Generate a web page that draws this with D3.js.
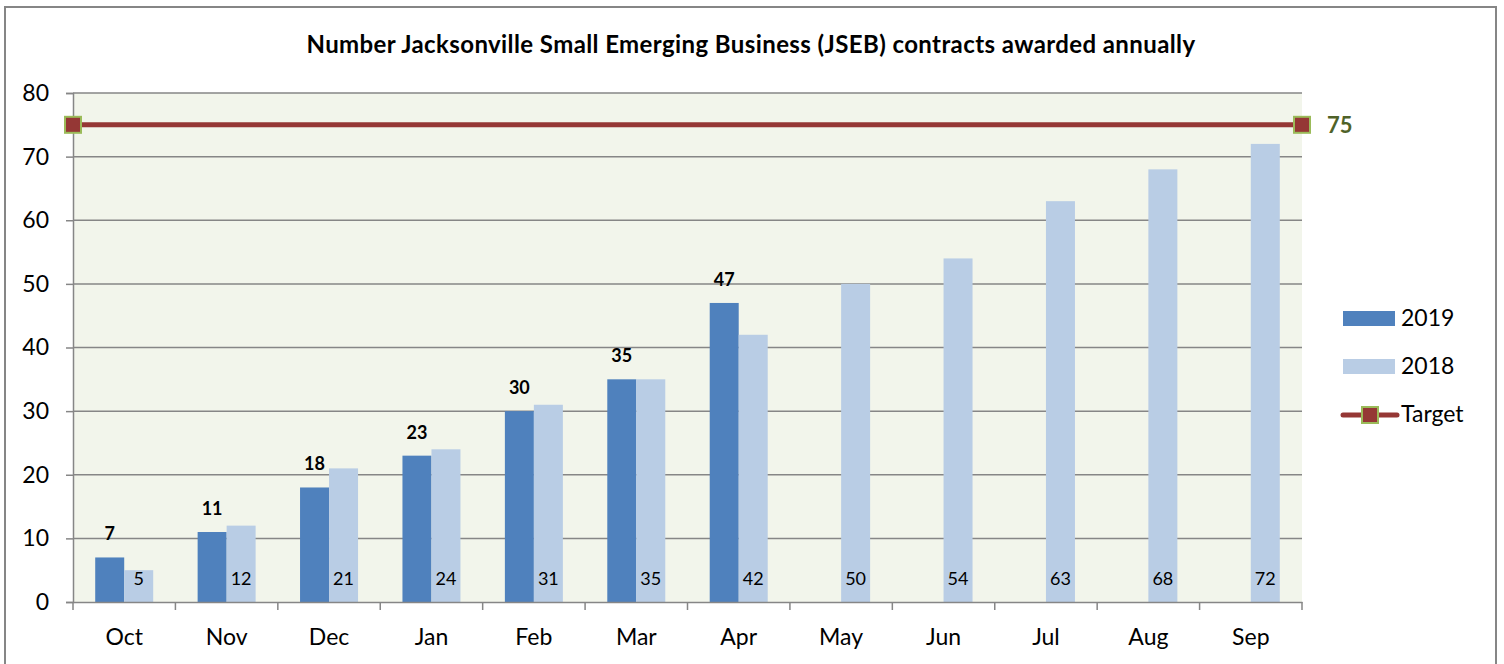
<!DOCTYPE html>
<html>
<head>
<meta charset="utf-8">
<script src="https://cdn.jsdelivr.net/npm/d3@7"></script>
<style>
  body { margin: 0; background: #fff; }
  svg { display: block; font-family: Lato, "Open Sans", sans-serif; }
</style>
</head>
<body>
<svg id="chart" width="1504" height="664"></svg>
<script>
const months = ['Oct', 'Nov', 'Dec', 'Jan', 'Feb', 'Mar', 'Apr', 'May', 'Jun', 'Jul', 'Aug', 'Sep'];
const values2019 = [7, 11, 18, 23, 30, 35, 47, null, null, null, null, null];
const values2018 = [5, 12, 21, 24, 31, 35, 42, 50, 54, 63, 68, 72];
const target = 75;
const yTicks = [0, 10, 20, 30, 40, 50, 60, 70, 80];
const title = 'Number Jacksonville Small Emerging Business (JSEB) contracts awarded annually';

const colors = {'2019': '#4f81bd', '2018': '#b9cde5', target: '#953735', marker: '#9bbb59'};

let svg = d3.select('#chart');
let plot = {left: 73, right: 1302, top: 93, bottom: 602};

// chart frame
svg.append('rect')
  .attr('x', 5).attr('y', 7).attr('width', 1491).attr('height', 700)
  .attr('fill', '#fff').attr('stroke', '#868686').attr('stroke-width', 2);

svg.append('text')
  .attr('x', 751).attr('y', 53)
  .attr('text-anchor', 'middle')
  .attr('font-weight', 'bold').attr('font-size', 24)
  .attr('letter-spacing', 0.4)
  .text(title);

let x = d3.scaleBand().domain(months).range([plot.left, plot.right]);
let x1 = d3.scaleBand().domain(['2019', '2018'])
  .range([0, x.bandwidth()]).paddingInner(0).paddingOuter(0.766);
let y = d3.scaleLinear().domain([0, 80]).range([plot.bottom, plot.top]);

svg.append('rect')
  .attr('x', plot.left).attr('y', plot.top)
  .attr('width', plot.right - plot.left).attr('height', plot.bottom - plot.top)
  .attr('fill', '#f2f5eb');

// gridlines + y axis
let yAxis = d3.axisLeft(y).tickValues(yTicks).tickSize(7).tickPadding(17);
let gy = svg.append('g').attr('transform', 'translate(' + plot.left + ',0)').call(yAxis);
gy.select('.domain').attr('stroke', '#868686').attr('stroke-width', 1.5);
gy.selectAll('.tick line').attr('stroke', '#868686').attr('stroke-width', 1.5);
gy.selectAll('.tick text').attr('font-size', 23).attr('fill', '#000')
  .attr('font-family', 'Lato, sans-serif');
svg.append('g').selectAll('line')
  .data(yTicks.filter(d => d > 0))
  .enter().append('line')
  .attr('x1', plot.left).attr('x2', plot.right)
  .attr('y1', d => y(d)).attr('y2', d => y(d))
  .attr('stroke', '#868686').attr('stroke-width', 1.5);

// bars
let rows = months.map((m, i) => ({month: m, '2019': values2019[i], '2018': values2018[i]}));
let groups = svg.append('g').selectAll('g')
  .data(rows).enter().append('g')
  .attr('transform', d => 'translate(' + x(d.month) + ',0)');
groups.selectAll('rect')
  .data(d => ['2019', '2018'].filter(k => d[k] != null).map(k => ({key: k, value: d[k]})))
  .enter().append('rect')
  .attr('x', d => x1(d.key))
  .attr('width', x1.bandwidth())
  .attr('y', d => y(d.value))
  .attr('height', d => y(0) - y(d.value))
  .attr('fill', d => colors[d.key]);

// labels: 2019 above bar, bold; 2018 inside base
groups.filter(d => d['2019'] != null).append('text')
  .attr('x', x1('2019') + x1.bandwidth() / 2)
  .attr('y', d => y(d['2019']) - 17)
  .attr('text-anchor', 'middle')
  .attr('font-weight', 'bold').attr('font-size', 18)
  .text(d => d['2019']);
groups.append('text')
  .attr('x', x1('2018') + x1.bandwidth() / 2)
  .attr('y', y(0) - 17)
  .attr('text-anchor', 'middle')
  .attr('font-size', 18)
  .text(d => d['2018']);

// x axis
let xAxis = d3.axisBottom(x).tickSize(0).tickPadding(27);
let gx = svg.append('g').attr('transform', 'translate(0,' + plot.bottom + ')').call(xAxis);
gx.select('.domain').attr('stroke', '#868686').attr('stroke-width', 1.5);
gx.selectAll('.tick text').attr('font-size', 23).attr('fill', '#000')
  .attr('font-family', 'Lato, sans-serif');
svg.append('g').selectAll('line')
  .data(months.map(m => x(m)).concat([plot.right]))
  .enter().append('line')
  .attr('x1', d => d).attr('x2', d => d)
  .attr('y1', plot.bottom).attr('y2', plot.bottom + 8)
  .attr('stroke', '#868686').attr('stroke-width', 1.5);

// target line
let ends = [plot.left, plot.right];
svg.append('line')
  .attr('x1', ends[0]).attr('x2', ends[1])
  .attr('y1', y(target)).attr('y2', y(target))
  .attr('stroke', colors.target).attr('stroke-width', 5);
svg.append('g').selectAll('rect')
  .data(ends).enter().append('rect')
  .attr('x', d => d - 8).attr('y', y(target) - 8)
  .attr('width', 16).attr('height', 16)
  .attr('fill', colors.target).attr('stroke', colors.marker).attr('stroke-width', 2);
svg.append('text')
  .attr('x', plot.right + 25).attr('y', y(target) + 8)
  .attr('font-weight', 'bold').attr('font-size', 22)
  .attr('fill', '#4f6228')
  .text(target);

// legend
let legend = svg.append('g').attr('transform', 'translate(1343,0)');
[['2019', 311], ['2018', 359]].forEach(([k, ly]) => {
  legend.append('rect').attr('x', 0).attr('y', ly).attr('width', 52).attr('height', 15)
    .attr('fill', colors[k]);
  legend.append('text').attr('x', 58).attr('y', ly + 15).attr('font-size', 23).text(k);
});
legend.append('line').attr('x1', 0).attr('x2', 54).attr('y1', 415).attr('y2', 415)
  .attr('stroke', colors.target).attr('stroke-width', 5).attr('stroke-linecap', 'round');
legend.append('rect').attr('x', 19).attr('y', 407).attr('width', 16).attr('height', 16)
  .attr('fill', colors.target).attr('stroke', colors.marker).attr('stroke-width', 2);
legend.append('text').attr('x', 58).attr('y', 422).attr('font-size', 23).text('Target');
</script>
</body>
</html>
